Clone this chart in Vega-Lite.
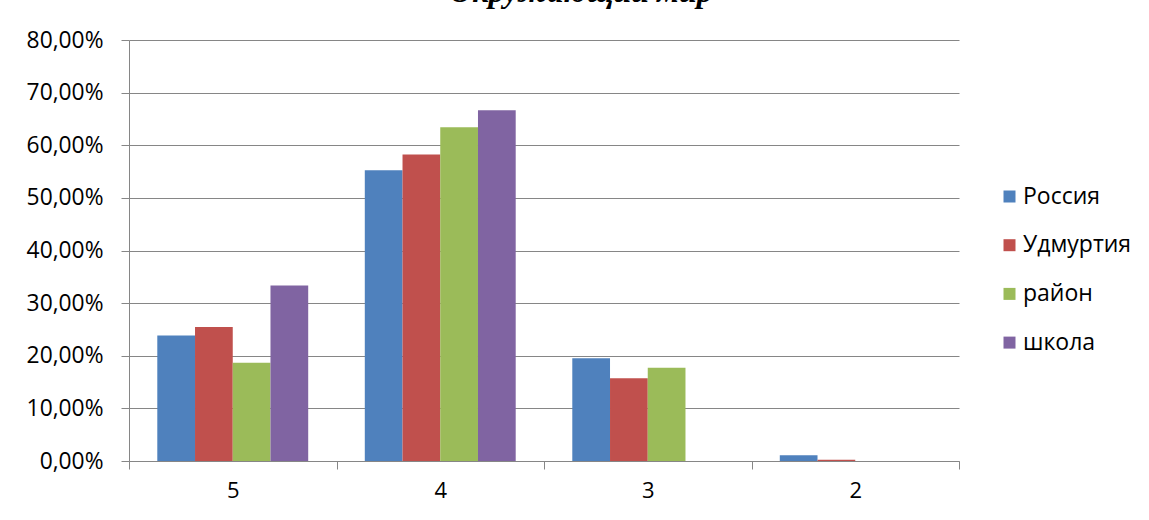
{
  "$schema": "https://vega.github.io/schema/vega-lite/v6.json",
  "width": 830,
  "height": 421,
  "autosize": {"type": "none"},
  "padding": {"left": 129, "top": 40, "right": 190, "bottom": 59},
  "background": "white",
  "title": {
    "text": "Окружающий мир",
    "font": "Liberation Serif",
    "fontSize": 32,
    "fontWeight": "bold",
    "fontStyle": "italic",
    "color": "black",
    "anchor": "middle",
    "frame": "group",
    "dx": 37,
    "offset": 20
  },
  "data": {
    "values": [
      {"grade": "5", "region": "Россия", "value": 0.2385},
      {"grade": "5", "region": "Удмуртия", "value": 0.2545},
      {"grade": "5", "region": "район", "value": 0.1865},
      {"grade": "5", "region": "школа", "value": 0.3333},
      {"grade": "4", "region": "Россия", "value": 0.5526},
      {"grade": "4", "region": "Удмуртия", "value": 0.5825},
      {"grade": "4", "region": "район", "value": 0.6343},
      {"grade": "4", "region": "школа", "value": 0.6667},
      {"grade": "3", "region": "Россия", "value": 0.1954},
      {"grade": "3", "region": "Удмуртия", "value": 0.1574},
      {"grade": "3", "region": "район", "value": 0.1774},
      {"grade": "3", "region": "школа", "value": 0},
      {"grade": "2", "region": "Россия", "value": 0.011},
      {"grade": "2", "region": "Удмуртия", "value": 0.0025},
      {"grade": "2", "region": "район", "value": 0},
      {"grade": "2", "region": "школа", "value": 0}
    ]
  },
  "mark": {"type": "bar"},
  "encoding": {
    "x": {
      "field": "grade",
      "type": "nominal",
      "sort": ["5", "4", "3", "2"],
      "scale": {"paddingInner": 0, "paddingOuter": 0},
      "axis": {
        "title": null,
        "labelAngle": 0,
        "tickBand": "extent",
        "tickSize": 8,
        "tickColor": "#868686",
        "domainColor": "#868686",
        "labelFont": "Open Sans",
        "labelFontSize": 22,
        "labelColor": "black",
        "labelPadding": 11,
        "grid": false
      }
    },
    "xOffset": {
      "field": "region",
      "type": "nominal",
      "sort": ["Россия", "Удмуртия", "район", "школа"],
      "scale": {"paddingInner": 0, "paddingOuter": 0.75}
    },
    "y": {
      "field": "value",
      "type": "quantitative",
      "scale": {"domain": [0, 0.8], "nice": false},
      "axis": {
        "title": null,
        "values": [0, 0.1, 0.2, 0.3, 0.4, 0.5, 0.6, 0.7, 0.8],
        "labelExpr": "replace(format(datum.value, '.2%'), '.', ',')",
        "tickSize": 8,
        "tickColor": "#868686",
        "domainColor": "#868686",
        "gridColor": "#868686",
        "grid": true,
        "labelFont": "Open Sans",
        "labelFontSize": 22.8,
        "labelColor": "black",
        "labelPadding": 18
      }
    },
    "color": {
      "field": "region",
      "type": "nominal",
      "sort": ["Россия", "Удмуртия", "район", "школа"],
      "scale": {
        "domain": ["Россия", "Удмуртия", "район", "школа"],
        "range": ["#4F81BD", "#C0504D", "#9BBB59", "#8064A2"]
      },
      "legend": {
        "title": null,
        "orient": "none",
        "legendX": 869,
        "legendY": 145,
        "symbolType": "square",
        "symbolSize": 144,
        "symbolStrokeWidth": 0,
        "labelFont": "Open Sans",
        "labelFontSize": 23,
        "labelColor": "black",
        "labelOffset": 2,
        "rowPadding": 24.7
      }
    }
  },
  "config": {
    "view": {"stroke": null}
  }
}
